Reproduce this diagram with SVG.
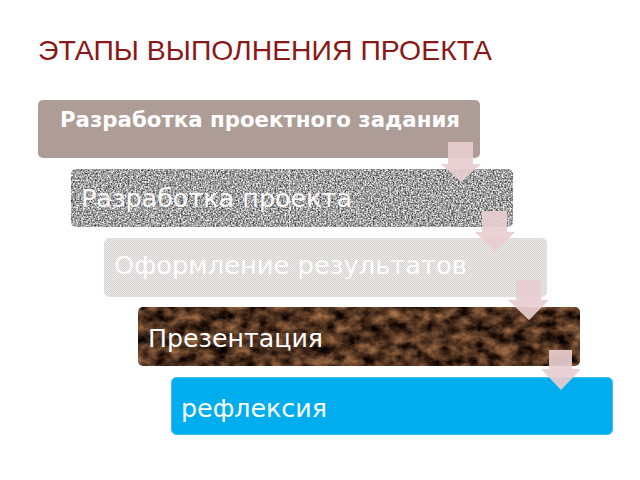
<svg xmlns="http://www.w3.org/2000/svg" width="640" height="480" viewBox="0 0 640 480">
  <style>
    .title { font-family: "Liberation Sans", "DejaVu Sans", sans-serif; font-size: 28px; fill: #8A1818; }
    .lbl { font-family: "DejaVu Sans", "Liberation Sans", sans-serif; font-size: 24px; fill: #FFFFFF; }
    .lblb { font-family: "DejaVu Sans", "Liberation Sans", sans-serif; font-size: 21px; font-weight: bold; fill: #FFFFFF; }
    .arrow { fill: #E8CDCF; fill-opacity: 0.92; }
  </style>
  <defs>
    <filter id="granite" x="0" y="0" width="1" height="1" color-interpolation-filters="sRGB">
      <feTurbulence type="fractalNoise" baseFrequency="0.6" numOctaves="3" seed="3" result="n"/>
      <feColorMatrix in="n" type="matrix" values="1.3 0 0 0 -0.02  1.3 0 0 0 -0.02  1.3 0 0 0 -0.02  0 0 0 0 1" result="g"/>
      <feComposite in="g" in2="SourceGraphic" operator="in"/>
    </filter>
    <filter id="marble" x="0" y="0" width="1" height="1" color-interpolation-filters="sRGB">
      <feTurbulence type="fractalNoise" baseFrequency="0.07 0.09" numOctaves="5" seed="11" result="t"/>
      <feColorMatrix in="t" type="matrix" values="0.95 0 0 0 -0.16  0.68 0 0 0 -0.14  0.45 0 0 0 -0.1  0 0 0 0 1" result="m"/>
      <feComposite in="m" in2="SourceGraphic" operator="in"/>
    </filter>
    <pattern id="checks" width="2" height="2" patternUnits="userSpaceOnUse">
      <rect width="2" height="2" fill="#F1EEEE"/>
      <rect width="1" height="1" fill="#D2CCCC"/>
      <rect x="1" y="1" width="1" height="1" fill="#D2CCCC"/>
    </pattern>
  </defs>

  <rect width="640" height="480" fill="#FFFFFF"/>

  <text class="title" x="38" y="60" textLength="454" lengthAdjust="spacingAndGlyphs">ЭТАПЫ ВЫПОЛНЕНИЯ ПРОЕКТА</text>

  <g id="node1">
    <rect x="38" y="100" width="442" height="58" rx="5" fill="#AD9D96"/>
    <text class="lblb" x="60" y="127" textLength="400" lengthAdjust="spacingAndGlyphs">Разработка проектного задания</text>
  </g>

  <g id="node2">
    <rect x="71" y="169" width="442" height="58" rx="5" fill="#999999" filter="url(#granite)"/>
    <line x1="289.5" y1="169" x2="289.5" y2="227" stroke="#FFFFFF" stroke-opacity="0.55" stroke-width="1"/>
    <text class="lbl" x="81" y="207" textLength="271" lengthAdjust="spacingAndGlyphs" fill-opacity="0.95">Разработка проекта</text>
  </g>

  <g id="node3">
    <rect x="104" y="238" width="443" height="59" rx="5" fill="url(#checks)"/>
    <text class="lbl" x="114" y="274" textLength="353" lengthAdjust="spacingAndGlyphs">Оформление результатов</text>
  </g>

  <g id="node4">
    <rect x="138" y="307" width="442" height="59" rx="5" fill="#3B2314" filter="url(#marble)"/>
    <text class="lbl" x="148" y="347" textLength="175" lengthAdjust="spacingAndGlyphs">Презентация</text>
  </g>

  <g id="node5">
    <rect x="171.5" y="377.5" width="441" height="57" rx="5" fill="#00AEEF" stroke="#3CC3F3" stroke-width="1"/>
    <text class="lbl" x="181" y="417" textLength="146" lengthAdjust="spacingAndGlyphs">рефлексия</text>
  </g>

  <g id="connectors">
    <polygon class="arrow" points="448,142 473,142 473,164 481,164 461,182 441,164 448,164"/>
    <polygon class="arrow" points="482,211 507,211 507,232 515,232 495,252 475,232 482,232"/>
    <polygon class="arrow" points="516,280 541,280 541,300 549,300 529,320 508,300 516,300"/>
    <polygon class="arrow" points="549,350 572,350 572,369 581,369 561,390 541,369 549,369"/>
  </g>
</svg>
